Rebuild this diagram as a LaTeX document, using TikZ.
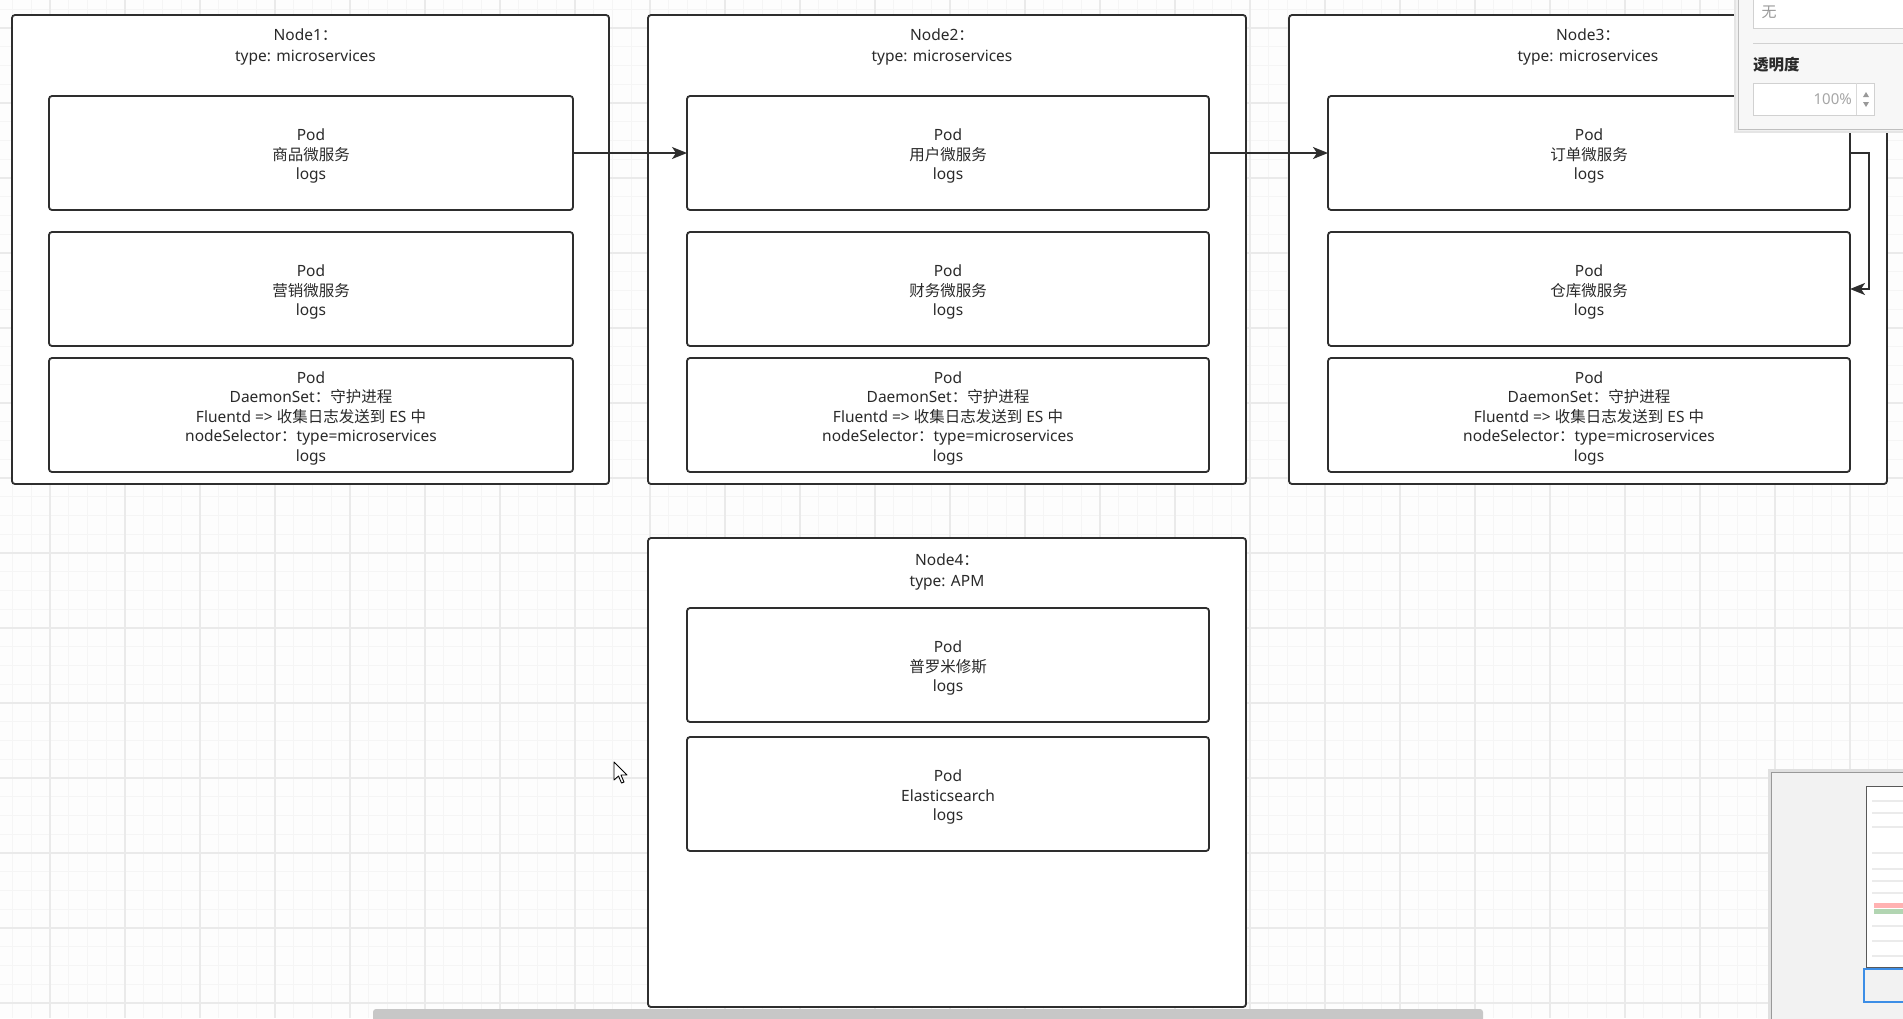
\documentclass[tikz,border=0pt]{standalone}
\usepackage{fontspec}
\setmainfont{Noto Sans}
\newfontfamily\cjk{Noto Sans CJK SC}
\usetikzlibrary{arrows.meta}
\definecolor{ln}{HTML}{2E2E2E}
\definecolor{tx}{HTML}{2A2A2A}
\definecolor{gmin}{HTML}{F5F5F5}
\definecolor{gmaj}{HTML}{EAEAEA}
\definecolor{bg}{HTML}{FDFDFD}
\newcommand{\podnode}[5]{%
  \node[podbox, minimum width=#4pt] (#1) at (#2,#3) {};
  \node[podtxt] (#1t) at ([yshift=-3pt]#1.center) {#5};}
\begin{document}
\begin{tikzpicture}[x=1pt,y=-1pt,
  box/.style={draw=ln, line width=1.8pt, fill=white, rounded corners=3pt, inner sep=0pt, outer sep=0pt, anchor=north west},
  outerbox/.style={box, minimum width=598pt, minimum height=469pt},
  podbox/.style={box, minimum height=114pt},
  podtxt/.style={align=center, text=tx, inner sep=0pt, font=\fontsize{15.5}{19.5}\selectfont},
  titletxt/.style={align=center, text=tx, inner sep=0pt, font=\fontsize{15.5}{21}\selectfont},
  conn/.style={draw=ln, line width=1.8pt, -{Stealth[length=15pt,width=12pt,inset=4pt]}},
  minorgrid/.style={draw=gmin, line width=1pt},
  majorgrid/.style={draw=gmaj, line width=1.2pt}]
\path[use as bounding box] (0,0) rectangle (1903,1018);
\clip (0,0) rectangle (1903,1018);
\fill[bg] (0,0) rectangle (1903,1018);
% grid
\foreach \i in {0,...,101} {\draw[minorgrid] ({12.5+18.75*\i},0) -- ({12.5+18.75*\i},1018);}
\foreach \i in {0,...,54} {\draw[minorgrid] (0,{9.25+18.75*\i}) -- (1903,{9.25+18.75*\i});}
\foreach \i in {0,...,25} {\draw[majorgrid] ({50+75*\i},0) -- ({50+75*\i},1018);}
\foreach \i in {0,...,13} {\draw[majorgrid] (0,{28+75*\i}) -- (1903,{28+75*\i});}

% outer nodes
\node[outerbox, minimum width=597pt] (n1) at (12,15) {};
\node[outerbox] (n2) at (648,15) {};
\node[outerbox] (n3) at (1289,15) {};
\node[outerbox] (n4) at (648,538) {};

\node[titletxt] (n1t) at (305.5,46.5) {Node1{\cjk ：}\\type: microservices};
\node[titletxt] (n2t) at (942,46.5) {Node2{\cjk ：}\\type: microservices};
\node[titletxt] (n3t) at (1588,46.5) {Node3{\cjk ：}\\type: microservices};
\node[titletxt] (n4t) at (947,571.5) {Node4{\cjk ：}\\type: APM};

% pods node1
\podnode{p11}{49}{96}{524}{Pod\\{\cjk 商品微服务}\\logs}
\podnode{p12}{49}{232}{524}{Pod\\{\cjk 营销微服务}\\logs}
\podnode{p13}{49}{358}{524}{Pod\\DaemonSet{\cjk ：守护进程}\\Fluentd =\textgreater{} {\cjk 收集日志发送到} ES {\cjk 中}\\nodeSelector{\cjk ：}type=microservices\\logs}
% pods node2
\podnode{p21}{687}{96}{522}{Pod\\{\cjk 用户微服务}\\logs}
\podnode{p22}{687}{232}{522}{Pod\\{\cjk 财务微服务}\\logs}
\podnode{p23}{687}{358}{522}{Pod\\DaemonSet{\cjk ：守护进程}\\Fluentd =\textgreater{} {\cjk 收集日志发送到} ES {\cjk 中}\\nodeSelector{\cjk ：}type=microservices\\logs}
% pods node3
\podnode{p31}{1328}{96}{522}{Pod\\{\cjk 订单微服务}\\logs}
\podnode{p32}{1328}{232}{522}{Pod\\{\cjk 仓库微服务}\\logs}
\podnode{p33}{1328}{358}{522}{Pod\\DaemonSet{\cjk ：守护进程}\\Fluentd =\textgreater{} {\cjk 收集日志发送到} ES {\cjk 中}\\nodeSelector{\cjk ：}type=microservices\\logs}
% pods node4
\podnode{p41}{687}{608}{522}{Pod\\{\cjk 普罗米修斯}\\logs}
\podnode{p42}{687}{737}{522}{Pod\\Elasticsearch\\logs}

% connectors
\draw[conn] (p11.east) -- (p21.west);
\draw[conn] (p21.east) -- (p31.west);
\draw[conn] (p31.east) -- ++(19,0) |- (p32.east);

% format panel (top right)
\fill[black!10] (1734,-4) rectangle (1906,133);
\fill[black!6] (1736,-4) rectangle (1906,131);
\path[fill=white!97!black, draw=black!25, line width=0.8pt] (1738,-4) rectangle (1906,129);
\path[fill=white, draw=black!18, line width=0.8pt] (1753,-4) rectangle (1906,28);
\node[text=black!40, font=\cjk\fontsize{15}{18}\selectfont, inner sep=0pt] (wu) at (1769,12) {无};
\draw[black!18, line width=0.8pt] (1753,43) -- (1906,43);
\node[anchor=west, text=tx, font=\cjk\bfseries\fontsize{15.5}{18}\selectfont, inner sep=0pt] (tmd) at (1753,65) {透明度};
\path[fill=white, draw=black!18, line width=0.8pt] (1753,83) rectangle (1874,115);
\draw[black!15, line width=0.8pt] (1856,83) -- (1856,115);
\node[anchor=east, text=black!35, font=\fontsize{15}{18}\selectfont, inner sep=0pt] (pct) at (1852,99) {100\%};
\fill[black!40] (1863,97) -- (1869,97) -- (1866,92) -- cycle;
\fill[black!40] (1863,102) -- (1869,102) -- (1866,107) -- cycle;

% minimap (bottom right)
\fill[black!12] (1768,769) rectangle (1906,1021);
\path[fill=black!5, draw=black!40, line width=1pt] (1771,772) rectangle (1906,1021);
\path[fill=white, draw=black!65, line width=1pt] (1866,786) rectangle (1906,967);
\foreach \yy in {800,812,826,852,868,880,892,925,940,955} {\fill[black!8] (1872,\yy) rectangle (1903,\yy+2);}
\fill[red!30] (1874,903) rectangle (1903,908);
\fill[green!45!black!30] (1874,909) rectangle (1903,914);
\draw[draw={rgb,255:red,61;green,142;blue,230}, line width=1.5pt] (1864,969) rectangle (1908,1002);

% scrollbar
\fill[black!22, rounded corners=3pt] (373,1009) rectangle (1483,1022);

% mouse cursor
\path[fill=white, draw=black, line width=0.9pt, line join=round] (614,762) -- (614,780) -- (618.5,776) -- (621.5,783) -- (624,782) -- (621,775) -- (627,775) -- cycle;
\end{tikzpicture}
\end{document}
